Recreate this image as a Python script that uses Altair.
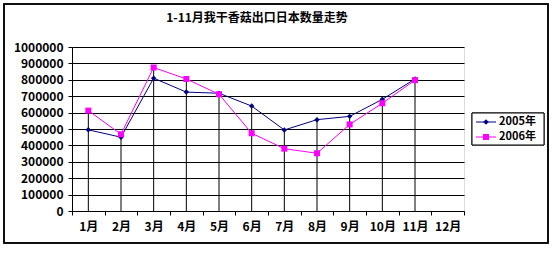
import altair as alt
import pandas as pd

months = ["1月", "2月", "3月", "4月", "5月", "6月", "7月", "8月", "9月", "10月", "11月", "12月"]
series = ["2005年", "2006年"]
v2005 = [495000, 450000, 810000, 725000, 718000, 640000, 494000, 557000, 577000, 681000, 805000]
v2006 = [612000, 468000, 875000, 805000, 712000, 474000, 380000, 352000, 528000, 657000, 798000]
y_ticks = [0, 100000, 200000, 300000, 400000, 500000, 600000, 700000, 800000, 900000, 1000000]
title_text = "1-11月我干香菇出口日本数量走势"
colors = ["#000080", "#FF00FF"]
shapes = ["diamond", "square"]
sizes = [30, 36]

rows = []
for s, vals in zip(series, [v2005, v2006]):
    for m, v in zip(months, vals):
        rows.append({"month": m, "series": s, "value": v})
df = pd.DataFrame(rows)
leg = pd.DataFrame({"series": series, "title": [title_text, title_text]})

FONT = "Noto Sans CJK SC"

xscale = alt.Scale(domain=months, paddingInner=0, paddingOuter=0)
xaxis = alt.Axis(title=None, labelAngle=0, tickBand="extent", grid=False, domainColor="black",
                 tickColor="black", tickSize=4, labelPadding=6, labelFont=FONT, labelFontSize=12,
                 labelFontWeight="bold", labelColor="black", labelOverlap=False)
yscale = alt.Scale(domain=[0, 1000000], nice=False, zero=True)
yaxis = alt.Axis(title=None, values=y_ticks, format="d", grid=True, labelOverlap=False,
                 gridColor="black", gridWidth=1, gridOpacity=1, domainColor="black", tickColor="black",
                 tickSize=4, labelPadding=5, labelFont=FONT, labelFontSize=12, labelFontWeight="bold",
                 labelColor="black", labelBaseline="middle")

base = alt.Chart(df)
color_scale = alt.Scale(domain=series, range=colors)
shape_scale = alt.Scale(domain=series, range=shapes)
size_scale = alt.Scale(domain=series, range=sizes)

X = alt.X("month:N", sort=months, scale=xscale, axis=xaxis)

lines = base.mark_line(strokeWidth=1).encode(
    x=X, y=alt.Y("value:Q", scale=yscale, axis=yaxis),
    color=alt.Color("series:N", scale=color_scale, legend=None), detail="series:N")

drop = base.mark_rule(color="black", strokeWidth=1).encode(
    x=X, y=alt.Y("max(value):Q", scale=yscale, axis=yaxis), y2=alt.datum(0))

pts = base.mark_point(filled=True, opacity=1).encode(
    x=X, y=alt.Y("value:Q", scale=yscale, axis=yaxis),
    color=alt.Color("series:N", scale=color_scale, legend=None),
    shape=alt.Shape("series:N", scale=shape_scale, legend=None),
    size=alt.Size("series:N", scale=size_scale, legend=None))

legc = alt.Chart(leg)
legbox = legc.mark_rect(fill="white", stroke="black", strokeWidth=1).encode(
    x=alt.value(400), x2=alt.value(472), y=alt.value(66), y2=alt.value(98))

leg_layers = []
for i, (s, ypos) in enumerate(zip(series, [75, 90])):
    sub = legc.transform_filter(alt.datum.series == s)
    leg_layers.append(sub.mark_rule(strokeWidth=1, color=colors[i]).encode(
        x=alt.value(404), x2=alt.value(424), y=alt.value(ypos)))
    leg_layers.append(sub.mark_point(filled=True, opacity=1, color=colors[i], shape=shapes[i],
                                     size=sizes[i]).encode(x=alt.value(414), y=alt.value(ypos)))
    leg_layers.append(sub.mark_text(align="left", baseline="middle", font=FONT, fontSize=11,
                                    fontWeight="bold", color="black").encode(
        x=alt.value(427), y=alt.value(ypos), text="series:N"))

border = legc.mark_rect(fill=None, stroke="black", strokeWidth=1.5).encode(
    x=alt.value(-68), x2=alt.value(476), y=alt.value(-43), y2=alt.value(196))

title = legc.transform_filter(alt.datum.series == series[0]).mark_text(
    align="center", baseline="middle", font=FONT, fontSize=12, fontWeight="bold", color="black").encode(
    x=alt.value(185), y=alt.value(-29), text="title:N")

chart = alt.layer(lines, drop, pts, border, title, legbox, *leg_layers).properties(
    width=392, height=164,
    autosize=alt.AutoSizeParams(type="none"),
    padding={"left": 72, "top": 47, "right": 91, "bottom": 54},
).configure_view(fill="#C0C0C0", stroke="#808080", strokeWidth=1).configure(background="white")

chart.save("out.html", embed_options={"renderer": "svg", "actions": False})
